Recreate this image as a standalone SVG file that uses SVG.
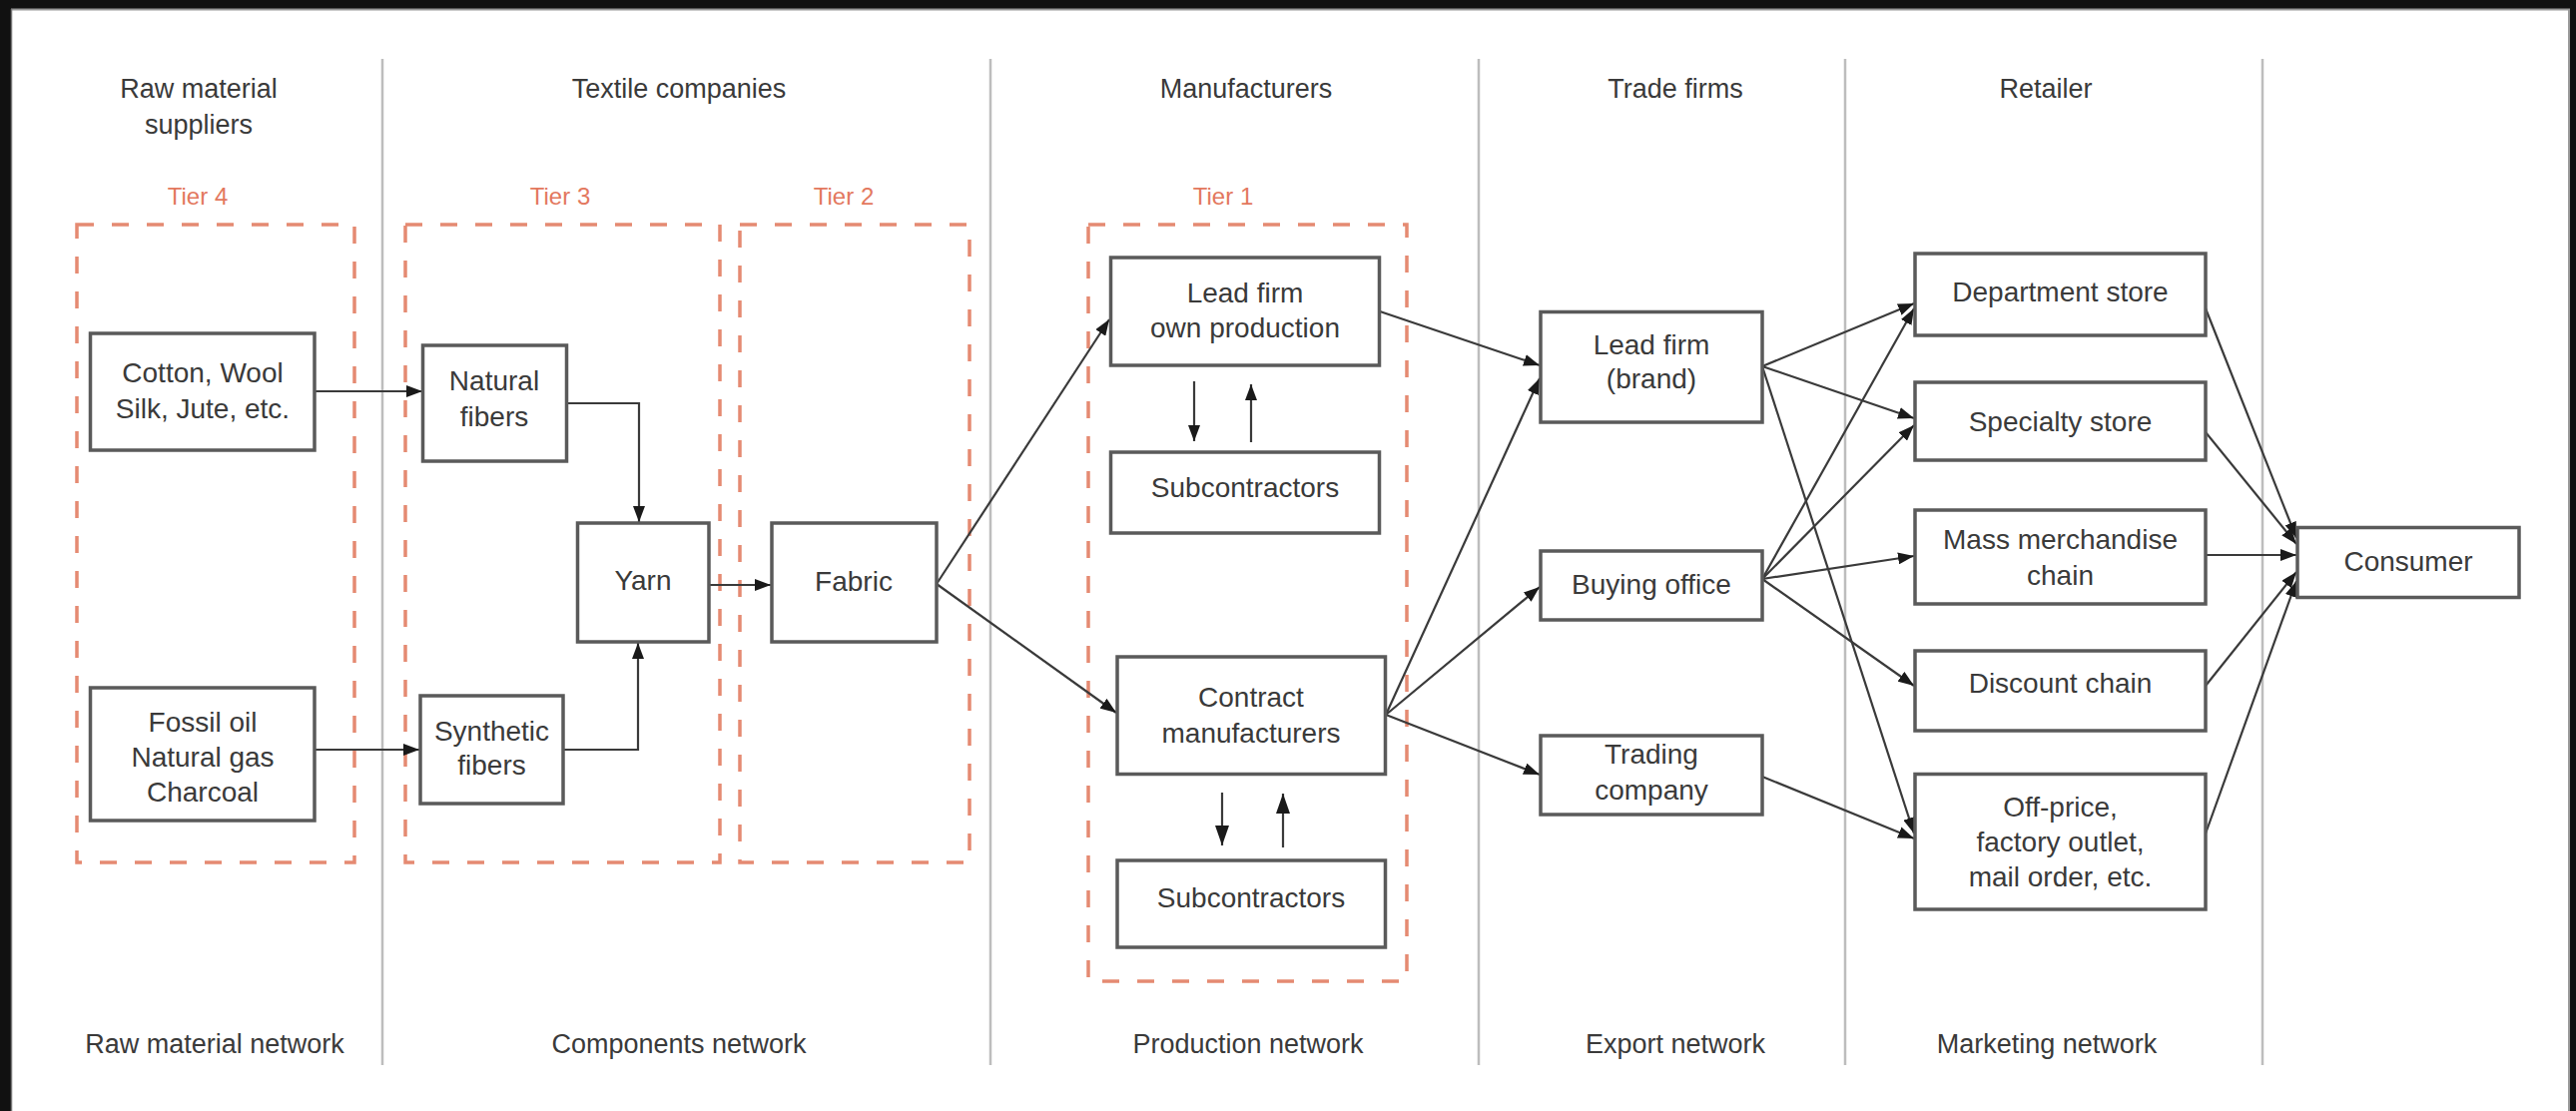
<svg xmlns="http://www.w3.org/2000/svg" width="2580" height="1113" viewBox="0 0 2580 1113">
<defs>
<style>
.t{font-family:"Liberation Sans",Arial,sans-serif;font-size:28px;fill:#3a3a3a;text-anchor:middle}
.h{font-family:"Liberation Sans",Arial,sans-serif;font-size:27px;fill:#3a3a3a;text-anchor:middle}
.tier{font-family:"Liberation Sans",Arial,sans-serif;font-size:24px;fill:#e3785e;text-anchor:middle}
.box{fill:#fff;stroke:#5a5a5a;stroke-width:3.5}
.dash{fill:none;stroke:#e58a72;stroke-width:3.5;stroke-dasharray:17 18}
.sep{stroke:#bdbdbd;stroke-width:2.5}
.c{fill:none;stroke:#3a3a3a;stroke-width:2.2;marker-end:url(#ah)}
.cb{fill:none;stroke:#3a3a3a;stroke-width:2.2;marker-end:url(#ahb)}
</style>
<marker id="ah" markerUnits="userSpaceOnUse" markerWidth="16" markerHeight="12" refX="16" refY="6" orient="auto">
<path d="M0,0 L16,6 L0,12 Z" fill="#1a1a1a"/>
</marker>
<marker id="ahb" markerUnits="userSpaceOnUse" markerWidth="20" markerHeight="14" refX="20" refY="7" orient="auto">
<path d="M0,0 L20,7 L0,14 Z" fill="#1a1a1a"/>
</marker>
</defs>
<rect x="0" y="0" width="2580" height="1113" fill="#ffffff"/>
<g id="frame">
<rect x="0" y="0" width="2580" height="9" fill="#111"/>
<rect x="0" y="0" width="11" height="1113" fill="#111"/>
<rect x="2574" y="0" width="6" height="1113" fill="#111"/>
<line x1="11" y1="9.5" x2="2574" y2="9.5" stroke="#999" stroke-width="2"/>
<line x1="11.5" y1="9" x2="11.5" y2="1113" stroke="#777" stroke-width="1.5"/>
<line x1="2573" y1="9" x2="2573" y2="1113" stroke="#999" stroke-width="2"/>
</g>
<g id="separators">
<line class="sep" x1="383" y1="59" x2="383" y2="1067"/>
<line class="sep" x1="992" y1="59" x2="992" y2="1067"/>
<line class="sep" x1="1481" y1="59" x2="1481" y2="1067"/>
<line class="sep" x1="1848" y1="59" x2="1848" y2="1067"/>
<line class="sep" x1="2266" y1="59" x2="2266" y2="1067"/>
</g>
<g id="headers">
<text class="h" x="199" y="98">Raw material</text>
<text class="h" x="199" y="134">suppliers</text>
<text class="h" x="680" y="98">Textile companies</text>
<text class="h" x="1248" y="98">Manufacturers</text>
<text class="h" x="1678" y="98">Trade firms</text>
<text class="h" x="2049" y="98">Retailer</text>
</g>
<g id="footers">
<text class="h" x="215" y="1055">Raw material network</text>
<text class="h" x="680" y="1055">Components network</text>
<text class="h" x="1250" y="1055">Production network</text>
<text class="h" x="1678" y="1055">Export network</text>
<text class="h" x="2050" y="1055">Marketing network</text>
</g>
<g id="tiers">
<g id="tier4"><rect class="dash" x="77" y="225" width="278" height="639"/><text class="tier" x="198" y="205">Tier 4</text></g>
<g id="tier3"><rect class="dash" x="406" y="225" width="315" height="639"/><text class="tier" x="561" y="205">Tier 3</text></g>
<g id="tier2"><rect class="dash" x="741" y="225" width="230" height="639"/><text class="tier" x="845" y="205">Tier 2</text></g>
<g id="tier1"><rect class="dash" x="1090" y="225" width="319" height="758"/><text class="tier" x="1225" y="205">Tier 1</text></g>
</g>
<g id="connectors">
<line class="c" x1="315" y1="392" x2="423" y2="392"/>
<line class="c" x1="315" y1="751" x2="420" y2="751"/>
<polyline class="c" points="567,404 640,404 640,523"/>
<polyline class="c" points="564,751 639,751 639,644"/>
<line class="c" x1="710" y1="586" x2="772" y2="586"/>
<line class="c" x1="938" y1="585" x2="1111" y2="320"/>
<line class="c" x1="938" y1="585" x2="1118" y2="714"/>
<line class="c" x1="1196" y1="382" x2="1196" y2="442"/>
<line class="c" x1="1253" y1="443" x2="1253" y2="385"/>
<line class="cb" x1="1224" y1="794" x2="1224" y2="847"/>
<line class="cb" x1="1285" y1="849" x2="1285" y2="795"/>
<line class="c" x1="1382" y1="312" x2="1542" y2="366"/>
<line class="c" x1="1388" y1="716" x2="1542" y2="379"/>
<line class="c" x1="1388" y1="716" x2="1542" y2="588"/>
<line class="c" x1="1388" y1="716" x2="1542" y2="776"/>
<line class="c" x1="1765" y1="367" x2="1917" y2="304"/>
<line class="c" x1="1765" y1="367" x2="1917" y2="419"/>
<line class="c" x1="1765" y1="367" x2="1917" y2="835"/>
<line class="c" x1="1765" y1="580" x2="1917" y2="309"/>
<line class="c" x1="1765" y1="580" x2="1917" y2="426"/>
<line class="c" x1="1765" y1="580" x2="1917" y2="557"/>
<line class="c" x1="1765" y1="580" x2="1917" y2="687"/>
<line class="c" x1="1765" y1="778" x2="1917" y2="840"/>
<line class="c" x1="2209" y1="309" x2="2300" y2="539"/>
<line class="c" x1="2209" y1="433" x2="2300" y2="545"/>
<line class="c" x1="2209" y1="556" x2="2300" y2="556"/>
<line class="c" x1="2209" y1="687" x2="2300" y2="573"/>
<line class="c" x1="2209" y1="835" x2="2300" y2="582"/>
</g>
<g id="cotton"><rect class="box" x="90.5" y="334" width="224.5" height="117"/><text class="t" x="203" y="383">Cotton, Wool</text><text class="t" x="203" y="419">Silk, Jute, etc.</text></g>
<g id="fossil"><rect class="box" x="90.5" y="689" width="224.5" height="133"/><text class="t" x="203" y="733">Fossil oil</text><text class="t" x="203" y="768">Natural gas</text><text class="t" x="203" y="803">Charcoal</text></g>
<g id="natural"><rect class="box" x="423.5" y="346" width="144" height="116"/><text class="t" x="495" y="391">Natural</text><text class="t" x="495" y="427">fibers</text></g>
<g id="synthetic"><rect class="box" x="421" y="697" width="143" height="108"/><text class="t" x="492.5" y="742">Synthetic</text><text class="t" x="492.5" y="776">fibers</text></g>
<g id="yarn"><rect class="box" x="578.5" y="524" width="131.5" height="119"/><text class="t" x="644" y="591">Yarn</text></g>
<g id="fabric"><rect class="box" x="773" y="524" width="165" height="119"/><text class="t" x="855" y="592">Fabric</text></g>
<g id="leadown"><rect class="box" x="1112.5" y="258" width="269" height="108"/><text class="t" x="1247" y="303">Lead firm</text><text class="t" x="1247" y="338">own production</text></g>
<g id="sub1"><rect class="box" x="1112.5" y="453" width="269" height="81"/><text class="t" x="1247" y="498">Subcontractors</text></g>
<g id="contract"><rect class="box" x="1119" y="658" width="268.5" height="117.5"/><text class="t" x="1253" y="708">Contract</text><text class="t" x="1253" y="744">manufacturers</text></g>
<g id="sub2"><rect class="box" x="1119" y="862" width="268.5" height="87"/><text class="t" x="1253" y="909">Subcontractors</text></g>
<g id="brand"><rect class="box" x="1543" y="312.5" width="222" height="110.5"/><text class="t" x="1654" y="355">Lead firm</text><text class="t" x="1654" y="389">(brand)</text></g>
<g id="buying"><rect class="box" x="1543" y="552" width="222" height="69"/><text class="t" x="1654" y="595">Buying office</text></g>
<g id="trading"><rect class="box" x="1543" y="737" width="222" height="79"/><text class="t" x="1654" y="765">Trading</text><text class="t" x="1654" y="801">company</text></g>
<g id="dept"><rect class="box" x="1918" y="254" width="291" height="82"/><text class="t" x="2063.5" y="302">Department store</text></g>
<g id="specialty"><rect class="box" x="1918" y="383" width="291" height="78"/><text class="t" x="2063.5" y="432">Specialty store</text></g>
<g id="mass"><rect class="box" x="1918" y="511" width="291" height="94"/><text class="t" x="2063.5" y="550">Mass merchandise</text><text class="t" x="2063.5" y="586">chain</text></g>
<g id="discount"><rect class="box" x="1918" y="652" width="291" height="80"/><text class="t" x="2063.5" y="694">Discount chain</text></g>
<g id="offprice"><rect class="box" x="1918" y="775.5" width="291" height="135.5"/><text class="t" x="2063.5" y="818">Off-price,</text><text class="t" x="2063.5" y="853">factory outlet,</text><text class="t" x="2063.5" y="888">mail order, etc.</text></g>
<g id="consumer"><rect class="box" x="2301" y="528.5" width="222" height="70"/><text class="t" x="2412" y="572">Consumer</text></g>
</svg>
